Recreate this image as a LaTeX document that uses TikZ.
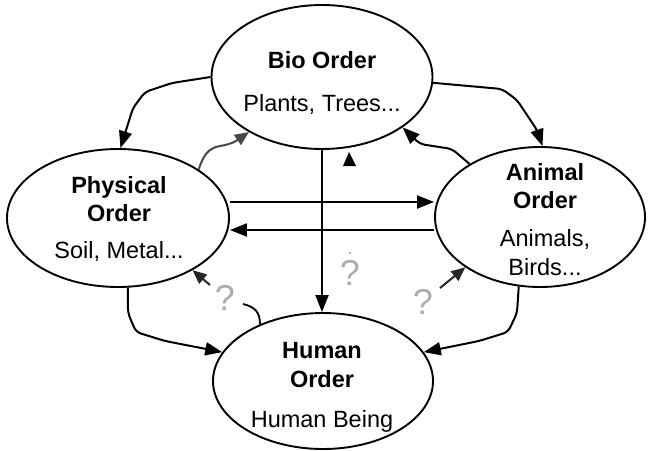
\documentclass[tikz,border=0pt]{standalone}
\usepackage{fontspec}
\setmainfont{Liberation Sans}
\usetikzlibrary{shapes.geometric,arrows.meta}
\begin{document}
\begin{tikzpicture}[x=1pt,y=-1pt,
  orderbox/.style={ellipse,draw,line width=1.9pt,inner sep=0pt},
  lbl/.style={anchor=base,font=\fontsize{23.5}{26}\selectfont,inner sep=0pt},
  blbl/.style={anchor=base,font=\fontsize{23.5}{26}\selectfont\bfseries,inner sep=0pt},
  conn/.style={line width=2pt,-{Triangle[length=17pt,width=13pt]},rounded corners=5pt},
  wavy/.style={line width=2pt,black!72,-{Triangle[length=14pt,width=12pt]}},
  qarr/.style={line width=2pt,black!85,-{Triangle[length=14pt,width=12pt]}},
  qmark/.style={text=black!32,font=\fontsize{36}{38}\selectfont,inner sep=0pt}]
\useasboundingbox (0,0) rectangle (648,450);
% ellipses
\node[orderbox,minimum width=221pt,minimum height=144pt] (bio) at (322,77) {};
\node[orderbox,minimum width=222pt,minimum height=138pt] (phys) at (118,218) {};
\node[orderbox,minimum width=210pt,minimum height=140pt] (anim) at (540,217) {};
\node[orderbox,minimum width=220pt,minimum height=136pt] (human) at (323,381) {};
% texts
\node[blbl] (t1) at (322,68) {Bio Order};
\node[lbl] (t2) at (322,111) {Plants, Trees...};
\node[blbl] (t3) at (119,193) {Physical};
\node[blbl] (t4) at (119,221) {Order};
\node[lbl] (t5) at (119,258) {Soil, Metal...};
\node[blbl] (t6) at (545,180) {Animal};
\node[blbl] (t7) at (545,208) {Order};
\node[lbl] (t8) at (545,246) {Animals,};
\node[lbl] (t9) at (545,275) {Birds...};
\node[blbl] (t10) at (322,358) {Human};
\node[blbl] (t11) at (322,387) {Order};
\node[lbl] (t12) at (322,427) {Human Being};
% connectors
\draw[conn] (bio.west) -- (172,83) -- (145,92) -- (133,108) -- (phys.88);
\draw[conn] (bio.-3) -- (502,89) -- (517,100) -- (537,130) -- (anim.88);
\draw[conn] (anim.143) -- (452,149) -- (420,144) -- (bio.-32);
\draw[conn] (phys.-82) -- (128,313) -- (136,332) -- (165,341) -- (human.164);
\draw[conn] (anim.-107) -- (517,313) -- (508,332) -- (479,341) -- (human.16);
\draw[conn] ([yshift=16pt]phys.east) -- ([yshift=15pt]anim.west);
\draw[conn] ([yshift=-13pt]anim.west) -- ([yshift=-12pt]phys.east);
\draw[conn] (bio.south) -- (bio.south |- human.north);
\draw[wavy] (phys.31) .. controls (203,156) and (208,148) .. (220,146)
  .. controls (232,144) and (236,141) .. (bio.-143);
% lone arrowhead
\fill (343,166) -- (349,152) -- (356,166) -- cycle;
% question marks
\coordinate (qlt) at (210,285);
\coordinate (qrt) at (440,288);
\coordinate (hookend) at (243,304);
\draw[qarr] (qlt) -- (phys.-35);
\draw[qarr] (qrt) -- (anim.-146);
\draw[line width=1.8pt] (human.138) .. controls (260,312) and (255,307) .. (hookend);
\node[qmark] (q1) at (225,298) {?};
\node[qmark] (q2) at (350,273) {?};
\node[qmark] (q3) at (423,302) {?};
\fill[black!45] (350,253) circle (1pt);
\end{tikzpicture}
\end{document}
